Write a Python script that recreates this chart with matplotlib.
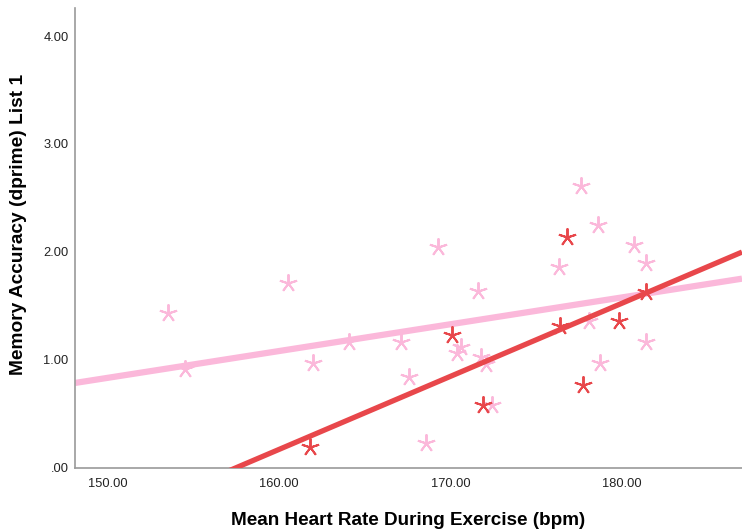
import numpy as np
import matplotlib
matplotlib.use("Agg")
import matplotlib.pyplot as plt

plt.rcParams["font.family"] = ["Liberation Sans", "DejaVu Sans"]

# heart rate (bpm) and d' for the two groups
hr_light = [153.5, 154.5, 160.5, 162.0, 164.1, 167.1, 167.6, 168.6, 169.3, 170.4,
            170.6, 171.6, 171.8, 172.1, 172.4, 176.3, 177.6, 178.1, 178.6, 178.7,
            180.7, 181.4, 181.4]
dp_light = [1.43, 0.92, 1.71, 0.97, 1.17, 1.17, 0.84, 0.23, 2.05, 1.06,
            1.12, 1.64, 1.03, 0.96, 0.58, 1.86, 2.61, 1.36, 2.25, 0.97,
            2.06, 1.90, 1.17]

hr_red = [161.8, 170.1, 171.9, 176.4, 176.8, 177.7, 179.8, 181.4]
dp_red = [0.19, 1.23, 0.58, 1.31, 2.14, 0.77, 1.36, 1.63]

xticks = [150, 160, 170, 180]
xticklabels = ["150.00", "160.00", "170.00", "180.00"]
yticks = [0, 1, 2, 3, 4]
yticklabels = [".00", "1.00", "2.00", "3.00", "4.00"]

pink = "#FBB8DA"
red = "#E8474B"

fig = plt.figure(figsize=(7.42, 5.31), dpi=100)
ax = fig.add_axes([0.101, 0.119, 0.899, 0.866])

xmin, xmax = 148.1, 187.0
ax.set_xlim(xmin, xmax)
ax.set_ylim(0, 4.26)

asterisk = (5, 2, 0)
ax.plot(hr_light, dp_light, linestyle="none", marker=asterisk, markersize=13,
        markeredgewidth=1.4, color=pink, zorder=3)
ax.plot(hr_red, dp_red, linestyle="none", marker=asterisk, markersize=13,
        markeredgewidth=1.4, color=red, zorder=4)

# least-squares fit lines for each group
xs = np.linspace(xmin, xmax, 100)
b_l = np.polyfit(hr_light, dp_light, 1)
b_r = np.polyfit(hr_red, dp_red, 1)
ax.plot(xs, np.polyval(b_l, xs), color=pink, linewidth=4.5, zorder=2,
        solid_capstyle="butt")
ax.plot(xs, np.polyval(b_r, xs), color=red, linewidth=3.8, zorder=5,
        solid_capstyle="butt")

ax.set_xticks(xticks)
ax.set_xticklabels(xticklabels)
ax.set_yticks(yticks)
ax.set_yticklabels(yticklabels)
ax.tick_params(length=0, labelsize=9.3, colors="#222222")
ax.tick_params(axis="x", pad=7)
ax.tick_params(axis="y", pad=4.5)

for s in ["top", "right"]:
    ax.spines[s].set_visible(False)
for s in ["left", "bottom"]:
    ax.spines[s].set_color("#9a9a9a")
    ax.spines[s].set_linewidth(1.2)

ax.set_xlabel("Mean Heart Rate During Exercise (bpm)", fontsize=13.6,
              fontweight="bold")
ax.set_ylabel("Memory Accuracy (dprime) List 1", fontsize=13.8,
              fontweight="bold")
ax.xaxis.set_label_coords(0.5, -0.097)
ax.yaxis.set_label_coords(-0.072, 0.530)

fig.savefig("out.png", dpi=100)
